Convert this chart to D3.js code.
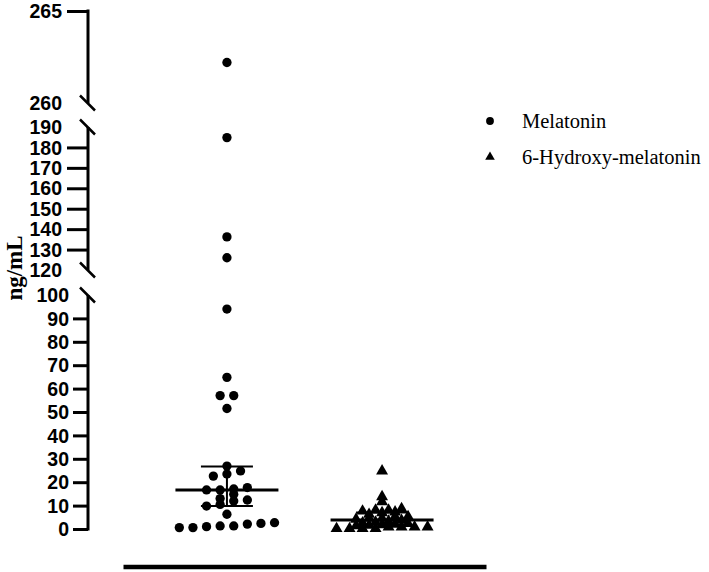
<!DOCTYPE html>
<html>
<head>
<meta charset="utf-8">
<script src="https://cdn.jsdelivr.net/npm/d3@7"></script>
<style>
  body { margin: 0; background: #fff; }
  svg { display: block; }
</style>
</head>
<body>
<div id="chart"></div>
<script>
const groups = ['Melatonin', '6-Hydroxy-melatonin'];

const melatonin = [262.2, 184.8, 136.2, 126, 94, 64.8, 57, 57, 51.5,
  26.9, 24.8, 23.5, 22.6, 17.7, 17.1, 16.7, 16.7, 14.8, 13.0, 12.4, 12.0,
  10.5, 9.8, 6.3, 2.7, 2.4, 2.1, 1.3, 1.3, 1.0, 0.6, 0.6];
const hydroxy = [25.2, 14.2, 12.1, 9.1, 8.5, 8.5, 8.1, 7.7, 7.4, 6.7, 5.7,
  5.7, 5.0, 5.0, 4.6, 4.1, 3.8, 3.4, 3.0, 2.8, 2.4, 2.2, 2.0, 1.8, 1.3, 1.3,
  1.3, 1.3, 0.6, 0.6, 0.6, 0.6];

// median with interquartile range
const medians = [16.7, 3.8];
const q1 = [9.8, 1.8];
const q3 = [26.7, 7.0];

// broken y axis segments
const segDomains = [[0, 100], [120, 190], [260, 265]];
const segLabels = [
  [0, 10, 20, 30, 40, 50, 60, 70, 80, 90, 100],
  [120, 130, 140, 150, 160, 170, 180, 190],
  [260, 265]
];
const breakValues = [100, 120, 190, 260];

const width = 709, height = 572;
const axisX = 88;

const svg = d3.select('#chart').append('svg')
  .attr('width', width)
  .attr('height', height);

const segRanges = [[529, 295], [270, 127], [103, 11]];
const segScales = segDomains.map((d, i) => d3.scaleLinear().domain(d).range(segRanges[i]));
const tickLens = [15, 21, 21];
const tickPads = [4, 5, 5];

function y(v) {
  if (v <= 100) return segScales[0](v);
  if (v <= 190) return segScales[1](v);
  return segScales[2](v);
}

segScales.forEach((s, i) => {
  const g = svg.append('g')
    .attr('transform', `translate(${axisX},0)`)
    .call(d3.axisLeft(s)
      .tickValues(segLabels[i])
      .tickSize(tickLens[i])
      .tickPadding(tickPads[i])
      .tickFormat(d3.format('d')));
  g.select('.domain').remove();
  g.selectAll('.tick line')
    .attr('stroke', '#000')
    .attr('stroke-width', 3)
    .attr('display', d => breakValues.includes(d) ? 'none' : null);
  g.selectAll('.tick text')
    .attr('fill', '#000')
    .attr('font-family', 'Liberation Sans, Arial, sans-serif')
    .attr('font-weight', 'bold')
    .attr('font-size', 19.5)
    .attr('dy', '0.34em');

  const [r0, r1] = s.range();
  g.append('line')
    .attr('x1', 0).attr('x2', 0)
    .attr('y1', r0 + (i === 0 ? 1.5 : 0))
    .attr('y2', r1 - (i === 2 ? 1.5 : 0))
    .attr('stroke', '#000')
    .attr('stroke-width', 3);

  // break marks at the cut ends
  s.domain().forEach(v => {
    if (!breakValues.includes(v)) return;
    const yy = s(v);
    g.append('line')
      .attr('x1', -8).attr('y1', yy - 7.5)
      .attr('x2', 7).attr('y2', yy + 7.5)
      .attr('stroke', '#000')
      .attr('stroke-width', 2.5);
  });
});

svg.append('text')
  .attr('transform', 'translate(22,268) rotate(-90)')
  .attr('text-anchor', 'middle')
  .attr('font-family', 'Liberation Serif, Times New Roman, serif')
  .attr('font-weight', 'bold')
  .attr('font-size', 23)
  .text('ng/mL');

// x axis
const x = d3.scalePoint().domain(groups).range([123, 486]).padding(0.67);
const xg = svg.append('g')
  .attr('transform', 'translate(0,566.5)')
  .call(d3.axisBottom(x).tickValues([]).tickSizeOuter(0));
xg.select('.domain').attr('stroke', '#000').attr('stroke-width', 4.5);

// row-based scatter layout: points close in value share a row, centred on the column
function rows(values, cx, spacing, rowH) {
  const out = [];
  let row = [];
  const flush = () => {
    row.forEach((p, j) => out.push({ x: cx + (j - (row.length - 1) / 2) * spacing, y: p.y, v: p.v }));
    row = [];
  };
  values.slice().sort((a, b) => a - b).forEach(v => {
    const py = y(v);
    if (row.length && row[0].y - py >= rowH) flush();
    row.push({ v, y: py });
  });
  flush();
  return out;
}

const series = [melatonin, hydroxy];
const symbols = [d3.symbolCircle, d3.symbolTriangle];
const symSizes = [68, 62];
const spacings = [13.6, 13];
const rowHs = [7, 2.6];

series.forEach((vals, i) => {
  const cx = x(groups[i]);
  const pts = rows(vals, cx, spacings[i], rowHs[i]);
  svg.append('g').selectAll('path')
    .data(pts)
    .join('path')
    .attr('transform', d => `translate(${d.x},${d.y + (i === 1 ? 1 : 0)})`)
    .attr('d', d3.symbol(symbols[i], symSizes[i]))
    .attr('fill', '#000');

  const eg = svg.append('g').attr('stroke', '#000');
  eg.append('line')
    .attr('x1', cx).attr('x2', cx)
    .attr('y1', y(q3[i])).attr('y2', y(q1[i]))
    .attr('stroke-width', 2);
  [q1[i], q3[i]].forEach(v => {
    eg.append('line')
      .attr('x1', cx - 26).attr('x2', cx + 26)
      .attr('y1', y(v)).attr('y2', y(v))
      .attr('stroke-width', 2);
  });
  eg.append('line')
    .attr('x1', cx - 51.5).attr('x2', cx + 51.5)
    .attr('y1', y(medians[i])).attr('y2', y(medians[i]))
    .attr('stroke-width', 3);
});

// legend
const legend = svg.append('g').attr('transform', 'translate(490,121)');
groups.forEach((name, i) => {
  const row = legend.append('g').attr('transform', `translate(0,${i * 36})`);
  row.append('path')
    .attr('d', d3.symbol(symbols[i], i === 0 ? 48 : 40))
    .attr('fill', '#000');
  row.append('text')
    .attr('x', 32)
    .attr('dy', '0.35em')
    .attr('font-family', 'Liberation Serif, Times New Roman, serif')
    .attr('font-size', 20.5)
    .attr('fill', '#000')
    .text(name);
});
</script>
</body>
</html>
